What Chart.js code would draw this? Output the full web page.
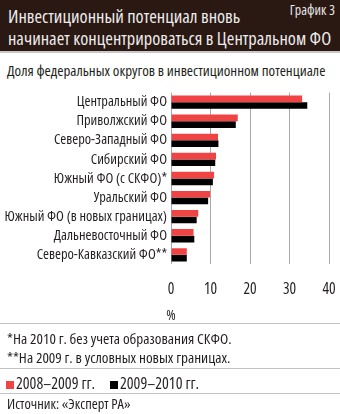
<!DOCTYPE html>
<html>
<head>
<meta charset="utf-8">
<script src="https://cdn.jsdelivr.net/npm/chart.js@4/dist/chart.umd.min.js"></script>
<style>
  html, body { margin: 0; padding: 0; background: #fff; }
  body { width: 340px; height: 414px; position: relative; overflow: hidden;
         font-family: "Open Sans", sans-serif; font-stretch: condensed; color: #231f20; }
  .band { position: absolute; left: 0; top: 0; width: 340px; height: 51px; background: #2a1813; }
  .band-line { position: absolute; left: 0; top: 51px; width: 340px; height: 2px; background: #c8c8c8; }
  .title { position: absolute; left: 8px; top: 5px; font-size: 18.4px; line-height: 22px; color: #ececec; white-space: nowrap; }
  .num { position: absolute; right: 5px; top: 0px; font-size: 14px; color: #e6e6e6; }
  .subtitle { position: absolute; left: 7px; top: 60px; font-size: 15px; white-space: nowrap; }
  .pct { position: absolute; left: 164px; top: 305px; width: 14px; text-align: center; font-size: 14.4px; }
  .rule { position: absolute; left: 0; width: 340px; height: 1px; background: #c4c4c4; }
  .note { position: absolute; left: 7px; font-size: 15.2px; white-space: nowrap; }
  .legend { position: absolute; left: 6px; top: 372px; font-size: 16px; white-space: nowrap; }
  .item { display: inline-block; width: 104px; }
  .sw { display: inline-block; width: 8px; height: 8px; margin-right: 2px; }
  .src { position: absolute; left: 7px; top: 394px; font-size: 14.4px; white-space: nowrap; }
  #wrap { position: absolute; left: 0; top: 80px; width: 340px; height: 235px; }
</style>
</head>
<body>
<div class="band"></div>
<div class="band-line"></div>
<div class="title">Инвестиционный потенциал вновь<br>начинает концентрироваться в Центральном ФО</div>
<div class="num">График 3</div>
<div class="subtitle">Доля федеральных округов в инвестиционном потенциале</div>

<div id="wrap"><canvas id="c"></canvas></div>
<div class="pct">%</div>

<div class="rule" style="top:323px"></div>
<div class="note" style="top:328px">*На 2010 г. без учета образования СКФО.</div>
<div class="note" style="top:347px">**На 2009 г. в условных новых границах.</div>
<div class="rule" style="top:368px"></div>
<div class="legend"><span class="item"><span class="sw" style="background:#f04444"></span>2008–2009 гг.</span><span class="item"><span class="sw" style="background:#000"></span>2009–2010 гг.</span></div>
<div class="rule" style="top:393px"></div>
<div class="src">Источник: «Эксперт РА»</div>

<script>
// Federal districts and their share of investment potential, %
const districts = [
  "Центральный ФО",
  "Приволжский ФО",
  "Северо-Западный ФО",
  "Сибирский ФО",
  "Южный ФО (с СКФО)*",
  "Уральский ФО",
  "Южный ФО (в новых границах)",
  "Дальневосточный ФО",
  "Северо-Кавказский ФО**"
];
const share2008_2009 = [33.2, 16.9, 11.9, 11.4, 10.9, 9.9, 6.9, 5.7, 4.0];
const share2009_2010 = [34.5, 16.4, 12.0, 11.2, 10.6, 9.4, 6.5, 5.9, 4.0];
const xTicks = [0, 10, 20, 30, 40];

// Chart.js passes "weight" straight into the canvas font string,
// so "condensed" here selects the narrow width of Open Sans.
const axisFont = { family: '"Open Sans", sans-serif', size: 14.4, weight: 'condensed' };
const tickFont = { family: '"Open Sans", sans-serif', size: 15.5, weight: 'condensed' };

new Chart(document.getElementById('c'), {
  type: 'bar',
  data: {
    labels: districts,
    datasets: [
      { label: '2008–2009 гг.', data: share2008_2009, backgroundColor: '#f04444' },
      { label: '2009–2010 гг.', data: share2009_2010, backgroundColor: '#000000' }
    ]
  },
  options: {
    indexAxis: 'y',
    responsive: true,
    maintainAspectRatio: false,
    animation: false,
    layout: { padding: { top: 7, right: 11, left: 0, bottom: 0 } },
    datasets: { bar: { categoryPercentage: 0.7, barPercentage: 1.0 } },
    plugins: { legend: { display: false }, tooltip: { enabled: false } },
    scales: {
      x: {
        min: 0, max: 40,
        afterBuildTicks: (s) => { s.ticks = xTicks.map(v => ({ value: v })); },
        // keep the plot edge fixed by the layout padding alone
        afterFit: (s) => { s.paddingLeft = 0; s.paddingRight = 0; },
        grid: { color: '#a8a8a8', lineWidth: 1, drawTicks: false },
        border: { display: false },
        ticks: { color: '#231f20', font: tickFont, padding: 16, maxRotation: 0 }
      },
      y: {
        grid: { display: false, drawTicks: false },
        border: { display: false },
        afterFit: (s) => { s.width = 171; },
        ticks: { color: '#231f20', font: axisFont, padding: 4, autoSkip: false }
      }
    }
  }
});
</script>
</body>
</html>
